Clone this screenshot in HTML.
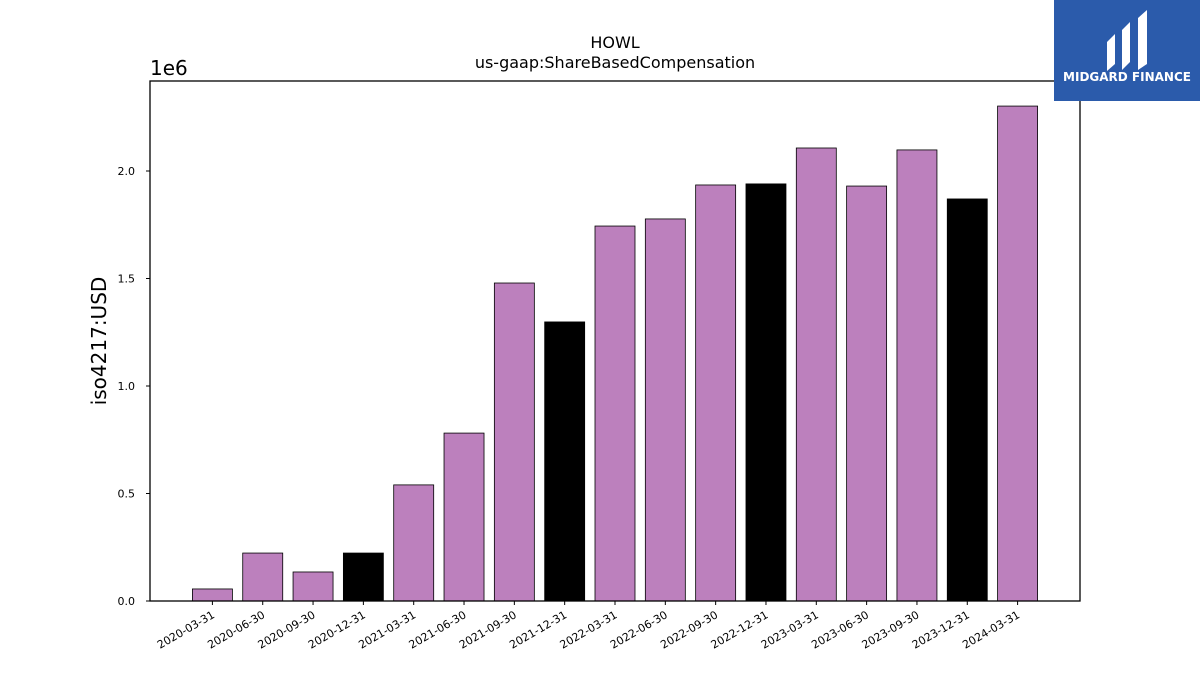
<!DOCTYPE html>
<html><head><meta charset="utf-8"><style>
body{margin:0;background:#fff;width:1200px;height:675px;overflow:hidden;font-family:"Liberation Sans","DejaVu Sans",sans-serif}
</style></head><body>
<svg id="chart" width="1200" height="675" xmlns="http://www.w3.org/2000/svg" font-family="DejaVu Sans, Liberation Sans, sans-serif">
<text x="615" y="48" font-size="16" text-anchor="middle">HOWL</text>
<text x="615" y="68" font-size="16" text-anchor="middle">us-gaap:ShareBasedCompensation</text>
<text transform="translate(106,341) rotate(-90)" font-size="20" text-anchor="middle">iso4217:USD</text>
<text x="150" y="75" font-size="20">1e6</text>
<g id="marks"></g>
<rect x="150" y="81" width="930" height="520" fill="none" stroke="#000" stroke-width="1.3"/>
<g>
<rect x="1054" y="0" width="146" height="101" fill="#2b5bab"/>
<path d="M1107 42 l8 -8 v30 l-8 7z M1122 30 l8 -8 v40 l-8 8z M1138 18 l9 -8 v54 l-9 6z" fill="#fff"/>
<text x="1127" y="81" font-size="12" font-weight="bold" fill="#fff" text-anchor="middle">MIDGARD FINANCE</text>
</g>
</svg>
<script>
const categories=["2020-03-31","2020-06-30","2020-09-30","2020-12-31","2021-03-31","2021-06-30","2021-09-30","2021-12-31","2022-03-31","2022-06-30","2022-09-30","2022-12-31","2023-03-31","2023-06-30","2023-09-30","2023-12-31","2024-03-31"];
const values=[56000,223000,135000,223000,540000,781000,1479000,1298000,1744000,1777000,1935000,1940000,2107000,1930000,2098000,1870000,2302000];
const yTicks=[0,500000,1000000,1500000,2000000];
const yTickLabels=["0.0","0.5","1.0","1.5","2.0"];
const NS="http://www.w3.org/2000/svg";
const g=document.getElementById("marks");
const x=i=>150+(i+1.24)*(930/18.48);
const y=v=>601-v*215/1e6;
function mk(t,a){const e=document.createElementNS(NS,t);for(const k in a)e.setAttribute(k,a[k]);g.appendChild(e);return e;}
yTicks.forEach((v,i)=>{
  const l=mk("line",{x1:146,x2:150,y1:y(v),y2:y(v),stroke:"#000"});
  
  
  const t=mk("text",{x:135,y:y(v)+4,"font-size":11,"text-anchor":"end"});
  t.textContent=yTickLabels[i];
  
  
});
categories.forEach((c,i)=>{
  const cx=x(i),w=40;
  const isQ4=c.endsWith("12-31");
  const b=mk("rect",{x:cx-w/2,y:y(values[i]),width:w,height:y(0)-y(values[i]),fill:isQ4?"#000":"#bc80bd",stroke:"#000","stroke-width":0.8});
  
  
  const tk=mk("line",{x1:cx,x2:cx,y1:601,y2:605,stroke:"#000"});
  
  
  const t=mk("text",{transform:`translate(${cx+3},${617}) rotate(-30)`,"font-size":11,"text-anchor":"end"});
  t.textContent=c;
  
  
});
</script>
</body></html>
